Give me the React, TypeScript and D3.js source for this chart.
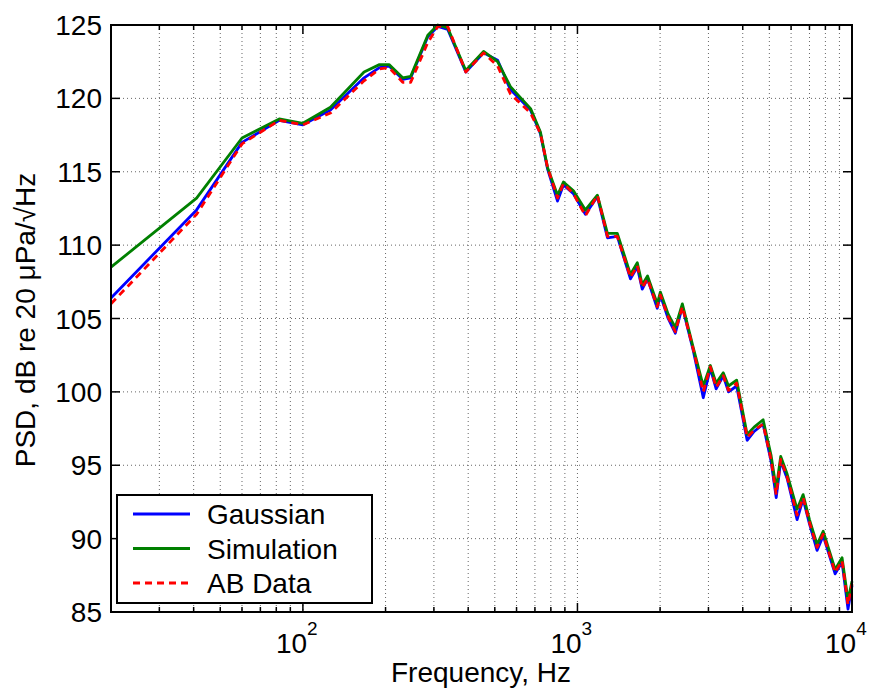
import React from "react";
import * as d3 from "d3";

const freqs = [20, 41, 60, 82, 100, 126, 167, 190, 206, 231, 247, 285, 310, 337, 392, 455, 512, 570, 675, 733, 778, 846, 889, 967, 1069, 1182, 1286, 1397, 1560, 1652, 1722, 1800, 1953, 2004, 2140, 2272, 2410, 2642, 2873, 3048, 3200, 3397, 3550, 3800, 4150, 4400, 4745, 5070, 5296, 5500, 5804, 6310, 6637, 7000, 7460, 7853, 8680, 9200, 9670, 10000];

const simulation = [108.5, 113.2, 117.3, 118.6, 118.3, 119.4, 121.8, 122.3, 122.3, 121.4, 121.5, 124.3, 125.0, 124.8, 121.9, 123.2, 122.5, 120.8, 119.3, 117.7, 115.3, 113.4, 114.3, 113.7, 112.4, 113.4, 110.8, 110.8, 108.0, 108.8, 107.3, 107.9, 106.0, 106.8, 105.3, 104.4, 106.0, 103.0, 100.4, 101.8, 100.6, 101.3, 100.4, 100.8, 97.1, 97.6, 98.1, 95.7, 93.4, 95.6, 94.4, 92.0, 93.0, 91.3, 89.6, 90.5, 87.9, 88.7, 85.8, 87.1];

const gaussian = [106.4, 112.4, 117.0, 118.5, 118.2, 119.2, 121.4, 122.1, 122.2, 121.3, 121.4, 124.2, 124.9, 124.7, 121.8, 123.1, 122.6, 120.6, 119.2, 117.6, 115.2, 113.0, 114.1, 113.5, 112.1, 113.3, 110.5, 110.6, 107.7, 108.5, 107.0, 107.7, 105.7, 106.6, 105.0, 104.0, 105.8, 102.8, 99.6, 101.6, 100.2, 101.1, 100.0, 100.4, 96.7, 97.3, 97.8, 95.3, 92.8, 95.3, 94.1, 91.3, 92.7, 91.0, 89.2, 90.2, 87.6, 88.4, 85.2, 86.8];

const abData = [106.0, 112.1, 116.9, 118.5, 118.2, 119.0, 121.2, 122.0, 122.1, 121.1, 121.1, 123.8, 124.9, 124.9, 121.8, 123.1, 122.2, 120.3, 119.0, 117.6, 115.3, 113.2, 114.2, 113.5, 112.0, 113.4, 110.6, 110.6, 107.8, 108.6, 107.1, 107.7, 105.8, 106.6, 105.1, 104.1, 105.8, 102.9, 100.0, 101.7, 100.3, 101.1, 100.1, 100.6, 96.9, 97.4, 97.8, 95.4, 93.0, 95.4, 94.2, 91.6, 92.8, 91.1, 89.4, 90.3, 87.7, 88.5, 85.5, 86.9];

const yTicks = [85, 90, 95, 100, 105, 110, 115, 120, 125];
const xMajorExps = [2, 3, 4];
const legendLabels = ["Gaussian", "Simulation", "AB Data"];

const FONT = "Liberation Sans, Arial, sans-serif";

export default function App() {
  const W = 881, H = 692;
  const L = 111, R = 852, T = 25, B = 612;
  const x = d3.scaleLog().domain([20, 10000]).range([L, R]);
  const y = d3.scaleLinear().domain([85, 125]).range([B, T]);

  const minor: number[] = [];
  for (let e = 1; e <= 4; e++) {
    for (let k = 1; k <= 9; k++) {
      const v = k * Math.pow(10, e);
      if (v >= 20 && v <= 10000) minor.push(v);
    }
  }

  const line = (vals: number[]) =>
    d3.line<number>().x((_, i) => x(freqs[i])).y((v) => y(v))(vals) || "";

  const series = [
    { vals: gaussian, color: "#0000ff", dash: undefined as string | undefined },
    { vals: simulation, color: "#008000", dash: undefined },
    { vals: abData, color: "#ff0000", dash: "7,5" },
  ];

  return (
    <svg width={W} height={H} style={{ position: "absolute", left: 0, top: 0, background: "#fff" }}>
      <rect x={0} y={0} width={W} height={H} fill="#fff" />
      {/* grid */}
      <g stroke="#666" strokeWidth={1} strokeDasharray="1,3">
        {minor.map((v) => (
          <line key={"gx" + v} x1={x(v)} x2={x(v)} y1={T} y2={B} />
        ))}
        {yTicks.map((v) => (
          <line key={"gy" + v} x1={L} x2={R} y1={y(v)} y2={y(v)} />
        ))}
      </g>
      {/* ticks */}
      <g stroke="#000" strokeWidth={1.5}>
        {minor.map((v) => {
          const major = Math.abs(Math.log10(v) - Math.round(Math.log10(v))) < 1e-9;
          const len = major ? 9 : 5;
          return (
            <g key={"tx" + v}>
              <line x1={x(v)} x2={x(v)} y1={B} y2={B - len} />
              <line x1={x(v)} x2={x(v)} y1={T} y2={T + len} />
            </g>
          );
        })}
        {yTicks.map((v) => (
          <g key={"ty" + v}>
            <line x1={L} x2={L + 9} y1={y(v)} y2={y(v)} />
            <line x1={R} x2={R - 9} y1={y(v)} y2={y(v)} />
          </g>
        ))}
      </g>
      {/* data */}
      <g fill="none" strokeLinejoin="round">
        {series.map((s, i) => (
          <path key={i} d={line(s.vals)} stroke={s.color} strokeWidth={2.8} strokeDasharray={s.dash} />
        ))}
      </g>
      {/* frame */}
      <rect x={L} y={T} width={R - L} height={B - T} fill="none" stroke="#000" strokeWidth={2} />
      {/* y labels */}
      <g fontFamily={FONT} fontSize={28} textAnchor="end" fill="#000">
        {yTicks.map((v) => (
          <text key={"yl" + v} x={102} y={y(v) + 10}>{v}</text>
        ))}
      </g>
      {/* x labels */}
      <g fontFamily={FONT} fill="#000">
        {xMajorExps.map((e) => (
          <text key={"xl" + e} x={x(Math.pow(10, e)) - 27} y={653} fontSize={28} textAnchor="start">
            <tspan>10</tspan>
            <tspan dy={-18} fontSize={19}>{e}</tspan>
          </text>
        ))}
        <text x={481} y={682} fontSize={28} textAnchor="middle">Frequency, Hz</text>
        <text transform={`translate(35,320) rotate(-90)`} fontSize={28} textAnchor="middle">
          PSD, dB re 20 μPa/√Hz
        </text>
      </g>
      {/* legend */}
      <g fontFamily={FONT} fontSize={28}>
        <rect x={117} y={495} width={255} height={108} fill="#fff" stroke="#000" strokeWidth={2} />
        {legendLabels.map((lab, i) => (
          <g key={lab}>
            <line x1={133} x2={190} y1={514 + i * 34.5} y2={514 + i * 34.5} stroke={series[i].color} strokeWidth={2.8} strokeDasharray={series[i].dash} />
            <text x={207} y={524 + i * 34.5} fill="#000">{lab}</text>
          </g>
        ))}
      </g>
    </svg>
  );
}
